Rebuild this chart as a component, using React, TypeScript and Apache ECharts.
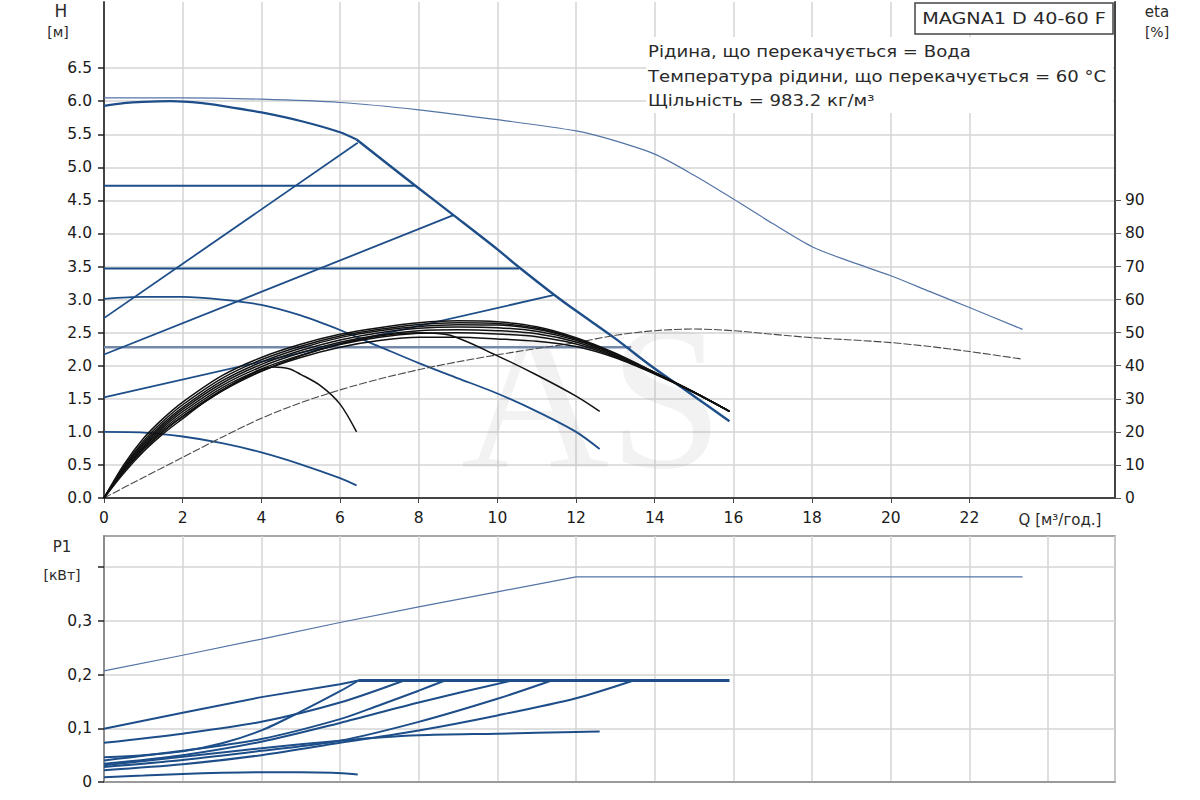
import React, { useEffect, useRef } from "react";
import * as echarts from "echarts";

// ---------- DATA ----------
const qTickLabels = [0, 2, 4, 6, 8, 10, 12, 14, 16, 18, 20, 22];
const hTickValues = [0, 0.5, 1, 1.5, 2, 2.5, 3, 3.5, 4, 4.5, 5, 5.5, 6, 6.5];
const etaTickValues = [0, 10, 20, 30, 40, 50, 60, 70, 80, 90];
const pTickValues = [0, 0.1, 0.2, 0.3, 0.4];
const pLabelled = ["0", "0,1", "0,2", "0,3"];

// Q-H curves [Q m3/h, H m]
const hMaxArc = [[0, 5.93], [0.5, 5.97], [1, 5.99], [1.7, 6.0], [2.5, 5.97], [3, 5.93], [4, 5.83], [5, 5.7], [6, 5.53], [6.42, 5.42]];
const hMaxDrop = [[6.42, 5.42], [7.9, 4.73], [8.9, 4.27], [10, 3.76], [10.55, 3.49], [11.45, 3.07], [12, 2.83], [13, 2.41], [13.9, 2.0], [15, 1.54], [15.9, 1.16]];
const hUpper = [[0, 6.05], [2, 6.05], [4, 6.03], [6, 5.98], [8, 5.87], [10, 5.72], [12, 5.55], [13, 5.4], [14, 5.2], [15, 4.88], [16, 4.52], [17, 4.15], [18, 3.8], [19, 3.57], [20, 3.36], [21, 3.12], [22, 2.88], [23.35, 2.55]];
const hConst1 = [[0, 4.72], [7.9, 4.72]];
const hConst2 = [[0, 3.47], [10.55, 3.47]];
const hConst3 = [[0, 2.28], [13.4, 2.28]];
const hProp1 = [[0, 2.72], [6.45, 5.37]];
const hProp2 = [[0, 2.17], [8.9, 4.28]];
const hProp3 = [[0, 1.52], [11.45, 3.07]];
const hFixed1 = [[0, 3.01], [1, 3.04], [2, 3.04], [3, 3.0], [4, 2.92], [5, 2.76], [6, 2.54], [7, 2.29], [8, 2.04], [9, 1.81], [10, 1.58], [11, 1.31], [12, 1.0], [12.6, 0.74]];
const hFixed2 = [[0, 1.0], [1, 0.99], [2, 0.93], [3, 0.83], [4, 0.69], [5, 0.51], [6, 0.3], [6.42, 0.19]];

// efficiency curves [%]
const etaQ = [0, 0.5, 1, 1.5, 2, 3, 4, 5, 6, 7, 8, 9, 10, 11, 12, 13, 14, 15, 15.9];
const eta1 = [0, 10, 18, 24, 29, 37, 42.5, 46.5, 49.5, 51.5, 53, 53.6, 53.3, 51.8, 48.5, 43.8, 38, 32, 26.2];
const eta2 = [0, 9.5, 17.2, 23.2, 28.2, 36.2, 41.8, 45.9, 49, 51, 52.5, 53, 52.8, 51.4, 48.2, 43.6, 38, 32, 26.2];
const eta3 = [0, 9.2, 16.6, 22.5, 27.4, 35.4, 41.1, 45.3, 48.5, 50.6, 51.9, 52.4, 52.3, 51, 48, 43.5, 37.9, 32, 26.2];
const eta4 = [0, 8.9, 16.1, 21.9, 26.8, 34.7, 40.4, 44.6, 47.8, 50, 51.3, 51.7, 51.5, 50.4, 47.7, 43.3, 37.8, 32, 26.2];
const eta5 = [0, 8.6, 15.6, 21.3, 26.1, 34, 39.7, 43.9, 47.1, 49.3, 50.6, 50.9, 50.6, 49.7, 47.2, 43, 37.7, 31.9, 26.2];
const eta6 = [0, 8.3, 15.2, 20.7, 25.4, 33.3, 39, 43.2, 46.4, 48.6, 49.8, 50, 49.6, 48.8, 46.6, 42.7, 37.6, 31.9, 26.2];
const eta7 = [0, 8.1, 14.8, 20.2, 24.8, 32.7, 38.4, 42.5, 45.6, 47.6, 48.6, 48.6, 48.1, 47.4, 45.8, 42.4, 37.5, 31.9, 26.2];
const etaFixed1 = [[0, 0], [0.5, 8], [1, 14.6], [1.5, 20], [2, 24.6], [3, 32.3], [4, 38.3], [5, 43], [6, 46.6], [7, 49], [8, 50], [8.8, 49.2], [10, 43], [11, 37.2], [12, 30.8], [12.6, 26.2]];
const etaFixed2 = [[0, 0], [0.5, 7.5], [1, 14], [1.5, 19.4], [2, 24], [2.5, 28.5], [3, 32.5], [3.5, 36], [4, 38.8], [4.3, 39.6], [4.7, 39.1], [5, 37.4], [5.5, 34], [6, 28.4], [6.42, 20]];
const etaUpper = [[0, 0], [1, 6.2], [2, 12.3], [3, 18.4], [4, 24.1], [5, 28.8], [6, 32.7], [7, 36], [8, 38.8], [9, 41.2], [10, 43.3], [11, 45.2], [12, 47], [13, 49.2], [14, 50.6], [15, 51.1], [16, 50.6], [17, 49.5], [18, 48.5], [19, 47.8], [20, 47], [21, 45.8], [22, 44.3], [23.35, 42]];

// P1 curves [kW]
const pUpper = [[0, 0.207], [2, 0.236], [4, 0.266], [6, 0.297], [8, 0.326], [10, 0.354], [12, 0.382], [23.35, 0.382]];
const pMax = [[0, 0.099], [2, 0.129], [4, 0.158], [6, 0.182], [6.47, 0.189]];
const pLimit = [[6.47, 0.189], [15.9, 0.189]];
const pConst1 = [[0, 0.073], [2, 0.09], [4, 0.112], [6, 0.148], [7.63, 0.189]];
const pProp1 = [[0, 0.046], [1, 0.05], [2, 0.057], [3, 0.072], [4, 0.096], [5, 0.131], [6, 0.169], [6.47, 0.189]];
const pProp2 = [[0, 0.04], [2, 0.058], [4, 0.08], [6, 0.117], [7, 0.143], [8, 0.17], [8.67, 0.189]];
const pConst2 = [[0, 0.034], [2, 0.05], [4, 0.075], [6, 0.11], [8, 0.148], [10.37, 0.189]];
const pProp3 = [[0, 0.028], [2, 0.041], [4, 0.058], [6, 0.077], [8, 0.112], [10, 0.155], [11.38, 0.189]];
const pConst3 = [[0, 0.022], [2, 0.033], [4, 0.05], [6, 0.073], [8, 0.096], [10, 0.124], [12, 0.156], [13.46, 0.189]];
const pFixed1 = [[0, 0.031], [2, 0.047], [4, 0.063], [6, 0.077], [7, 0.083], [8, 0.087], [10, 0.09], [12, 0.093], [12.6, 0.094]];
const pFixed2 = [[0, 0.009], [1, 0.012], [2, 0.015], [3, 0.017], [4, 0.018], [5, 0.018], [5.8, 0.017], [6.45, 0.014]];

const infoLines = [
  "Рідина, що перекачується = Вода",
  "Температура рідини, що перекачується = 60 °C",
  "Щільність = 983.2 кг/м³",
];
const modelName = "MAGNA1 D 40-60 F";

// ---------- STYLE ----------
const FONT = "DejaVu Sans, Verdana, sans-serif";
const BLUE = "#1d4e89";
const BLUE_LIGHT = "#5474a6";
const GREY_BLUE = "#7488aa";
const BLACK = "#111111";
const GRID = "#d4d4d4";
const AXIS = "#444444";

const zip = (xs: number[], ys: number[]) => xs.map((x, i) => [x, ys[i]]);

function line(data: number[][], xi: number, yi: number, color: string, width: number, smooth: number | boolean, z = 3, type: any = "solid") {
  return {
    type: "line",
    xAxisIndex: xi,
    yAxisIndex: yi,
    data,
    showSymbol: false,
    symbol: "none",
    smooth,
    silent: true,
    z,
    lineStyle: { color, width, type },
  };
}

export default function App() {
  const ref = useRef<HTMLDivElement>(null);

  useEffect(() => {
    if (!ref.current) return;
    const chart = echarts.init(ref.current, null, { renderer: "svg" });
    const labelStyle = { fontFamily: FONT, fontSize: 15.5, color: "#1a1a1a" };
    const txt = (text: string, x: number, y: number, size: number, align = "center", sx = 1) => ({
      type: "text",
      x,
      y,
      z: 10,
      scaleX: sx,
      style: { text, fill: "#2a2a2a", fontFamily: FONT, fontSize: size, align, verticalAlign: "middle" },
    });

    const option: any = {
      animation: false,
      backgroundColor: "#ffffff",
      grid: [
        { left: 104, top: 2, width: 1011, height: 496, containLabel: false },
        { left: 104, top: 536, width: 1011, height: 246, containLabel: false, show: true, borderColor: "#8a8a8a", borderWidth: 1.5, backgroundColor: "transparent" },
      ],
      xAxis: [
        {
          type: "value", gridIndex: 0, min: 0, max: 25.7, interval: 2,
          axisLine: { show: true, lineStyle: { color: AXIS, width: 2 } },
          axisTick: { show: true, length: 5, lineStyle: { color: AXIS }, customValues: qTickLabels },
          axisLabel: { ...labelStyle, margin: 12, formatter: (v: number) => (qTickLabels.includes(v) ? String(v) : "") },
          splitLine: { show: true, lineStyle: { color: GRID, width: 1.5 } },
        },
        {
          type: "value", gridIndex: 1, min: 0, max: 25.7, interval: 2,
          axisLine: { show: true, lineStyle: { color: "#8a8a8a", width: 1.5 } },
          axisTick: { show: false },
          axisLabel: { show: false },
          splitLine: { show: true, lineStyle: { color: GRID, width: 1.5 } },
        },
      ],
      yAxis: [
        {
          type: "value", gridIndex: 0, position: "left", min: 0, max: 7.5, interval: 0.5,
          axisLine: { show: true, lineStyle: { color: AXIS, width: 2 } },
          axisTick: { show: true, length: 6, lineStyle: { color: "#222", width: 1.5 }, customValues: hTickValues },
          axisLabel: { ...labelStyle, margin: 12, formatter: (v: number) => (v <= 6.5001 ? v.toFixed(1) : "") },
          splitLine: { show: true, lineStyle: { color: GRID, width: 1.5 } },
        },
        {
          type: "value", gridIndex: 0, position: "right", min: 0, max: 150, interval: 10,
          axisLine: { show: true, lineStyle: { color: AXIS, width: 2 } },
          axisTick: { show: true, length: 6, lineStyle: { color: "#555" }, customValues: etaTickValues },
          axisLabel: { ...labelStyle, margin: 10, formatter: (v: number) => (v <= 90 ? String(v) : "") },
          splitLine: { show: false },
        },
        {
          type: "value", gridIndex: 1, position: "left", min: 0, max: 0.458, interval: 0.1,
          axisLine: { show: true, lineStyle: { color: "#777", width: 1.5 } },
          axisTick: { show: true, length: 6, lineStyle: { color: "#222", width: 1.5 }, customValues: pTickValues },
          axisLabel: {
            ...labelStyle, margin: 12,
            formatter: (v: number) => {
              const i = Math.round(v * 10);
              return Math.abs(v * 10 - i) < 1e-6 && i < pLabelled.length ? pLabelled[i] : "";
            },
          },
          splitLine: { show: true, lineStyle: { color: GRID, width: 1.5 } },
        },
      ],
      graphic: [
        {
          type: "text", x: 592, y: 397, z: 1,
          style: { text: "AS", fill: "rgba(150,150,150,0.12)", fontFamily: "Liberation Serif, serif", fontSize: 205, align: "center", verticalAlign: "middle" },
        },
        { type: "rect", z: 10, shape: { x: 646, y: 37, width: 467, height: 76 }, style: { fill: "#ffffff" } },
        { type: "rect", z: 10, shape: { x: 915, y: 3, width: 198, height: 31 }, style: { fill: "#ffffff", stroke: "#444", lineWidth: 1.5 } },
        txt(modelName, 1014, 19, 16, "center", 1.2),
        txt(infoLines[0], 648, 51, 16, "left", 1.13),
        txt(infoLines[1], 648, 76, 16, "left", 1.13),
        txt(infoLines[2], 648, 100, 16, "left", 1.13),
        txt("H", 61, 11, 17),
        txt("[м]", 58, 32, 14),
        txt("eta", 1157, 12, 15),
        txt("[%]", 1157, 32, 14),
        txt("Q [м³/год.]", 1060, 520, 15),
        txt("P1", 62, 547, 15),
        txt("[кВт]", 62, 575, 14),
      ],
      series: [
        // Q-H
        line(hUpper, 0, 0, BLUE_LIGHT, 1.2, 0.3),
        line(hConst3, 0, 0, GREY_BLUE, 2.5, false),
        line(hConst1, 0, 0, BLUE, 2, false),
        line(hConst2, 0, 0, BLUE, 2, false),
        line(hProp1, 0, 0, BLUE, 1.8, false),
        line(hProp2, 0, 0, BLUE, 1.8, false),
        line(hProp3, 0, 0, BLUE, 1.8, false),
        line(hFixed1, 0, 0, BLUE, 1.8, 0.3),
        line(hFixed2, 0, 0, BLUE, 1.8, 0.3),
        line(hMaxArc, 0, 0, BLUE, 2.2, 0.3),
        line(hMaxDrop, 0, 0, BLUE, 2.4, 0.3),
        // efficiency
        line(etaUpper, 0, 1, "#4a4a4a", 1.1, 0.3, 3, [8, 2]),
        line(zip(etaQ, eta7), 0, 1, BLACK, 1.5, 0.3, 4),
        line(zip(etaQ, eta6), 0, 1, BLACK, 1.5, 0.3, 4),
        line(zip(etaQ, eta5), 0, 1, BLACK, 1.5, 0.3, 4),
        line(zip(etaQ, eta4), 0, 1, BLACK, 1.5, 0.3, 4),
        line(zip(etaQ, eta3), 0, 1, BLACK, 1.5, 0.3, 4),
        line(zip(etaQ, eta2), 0, 1, BLACK, 1.5, 0.3, 4),
        line(zip(etaQ, eta1), 0, 1, BLACK, 1.5, 0.3, 4),
        line(etaFixed1, 0, 1, BLACK, 1.5, 0.3, 4),
        line(etaFixed2, 0, 1, BLACK, 1.5, 0.3, 4),
        // P1
        line(pUpper, 1, 2, BLUE_LIGHT, 1.2, false),
        line(pMax, 1, 2, BLUE, 2, false),
        line(pConst1, 1, 2, BLUE, 2, 0.3),
        line(pProp1, 1, 2, BLUE, 2, 0.3),
        line(pProp2, 1, 2, BLUE, 2, 0.3),
        line(pConst2, 1, 2, BLUE, 2, 0.3),
        line(pProp3, 1, 2, BLUE, 2, 0.3),
        line(pConst3, 1, 2, BLUE, 2, 0.3),
        line(pFixed1, 1, 2, BLUE, 2, 0.3),
        line(pFixed2, 1, 2, BLUE, 2, 0.3),
        line(pLimit, 1, 2, BLUE, 2.8, false),
      ],
    };
    chart.setOption(option);
    return () => chart.dispose();
  }, []);

  return (
    <div
      ref={ref}
      style={{ position: "absolute", left: 0, top: 0, width: 1200, height: 800, background: "#ffffff" }}
    />
  );
}
